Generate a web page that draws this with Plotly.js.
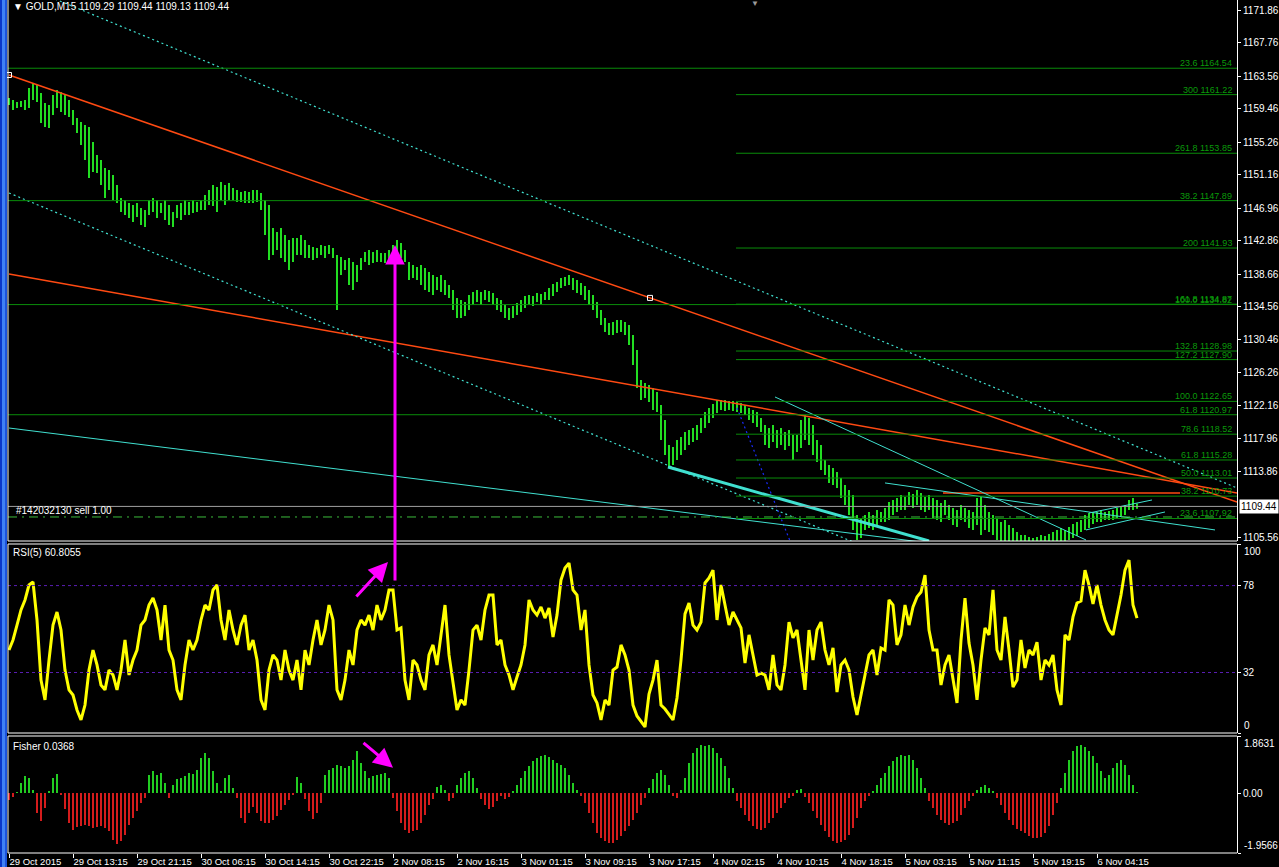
<!DOCTYPE html>
<html><head><meta charset="utf-8">
<script src="https://cdn.plot.ly/plotly-3.0.1.min.js"></script>
<style>html,body{margin:0;padding:0;background:#000;overflow:hidden}#chart{width:1279px;height:867px}</style>
</head><body><div id="chart"></div>
<script>
// ---------- DATA ----------
const xTickLabels = ['29 Oct 2015','29 Oct 13:15','29 Oct 21:15','30 Oct 06:15','30 Oct 14:15','30 Oct 22:15','2 Nov 08:15','2 Nov 16:15','3 Nov 01:15','3 Nov 09:15','3 Nov 17:15','4 Nov 02:15','4 Nov 10:15','4 Nov 18:15','5 Nov 03:15','5 Nov 11:15','5 Nov 19:15','6 Nov 04:15'];
const xTickBars = [0,32,64,96,128,160,192,224,256,288,320,352,384,416,448,480,512,544];
const priceTicks = [1171.86,1167.76,1163.56,1159.46,1155.26,1151.16,1146.96,1142.86,1138.66,1134.56,1130.46,1126.26,1122.16,1117.96,1113.86,1105.56];

// sampled every 2nd M15 bar
const priceHigh = [1160.80,1160.55,1160.29,1160.42,1160.55,1162.05,1162.68,1162.43,1161.43,1160.17,
1159.92,1161.17,1161.80,1161.55,1161.17,1160.55,1159.29,1158.28,1157.78,1157.40,
1157.15,1155.26,1153.63,1153.00,1152.00,1151.74,1151.12,1149.86,1148.22,1147.97,
1147.59,1147.34,1147.59,1146.97,1146.72,1147.97,1148.22,1147.97,1147.59,1147.97,
1147.34,1146.46,1147.34,1147.59,1147.97,1147.72,1147.97,1147.72,1147.97,1148.60,
1149.23,1149.86,1149.61,1150.24,1149.86,1150.11,1149.48,1149.23,1148.98,1149.10,
1148.98,1149.23,1149.23,1148.85,1147.97,1147.34,1144.45,1143.95,1144.45,1143.57,
1142.94,1143.19,1143.19,1143.57,1142.94,1142.31,1142.06,1141.94,1142.31,1142.19,
1142.31,1141.94,1141.06,1140.80,1140.43,1140.68,1140.18,1139.80,1140.68,1141.43,
1141.69,1141.43,1141.69,1141.31,1141.31,1141.69,1142.31,1142.94,1142.57,1141.69,
1140.18,1139.80,1139.55,1139.80,1139.42,1138.92,1138.54,1138.29,1138.54,1137.91,
1137.28,1136.66,1135.65,1135.40,1135.15,1136.03,1136.40,1136.66,1136.40,1136.66,
1136.53,1136.28,1135.65,1135.40,1134.77,1134.39,1134.64,1135.02,1135.40,1135.90,
1136.03,1135.90,1136.28,1136.15,1136.40,1136.91,1137.41,1137.66,1138.16,1138.29,
1138.54,1138.16,1137.91,1137.53,1137.16,1136.66,1136.03,1135.15,1134.14,1133.14,
1132.51,1132.63,1132.88,1132.88,1132.63,1132.25,1131.00,1129.11,1125.34,1124.96,
1124.71,1124.33,1123.83,1122.20,1120.31,1117.17,1116.91,1117.79,1118.17,1118.80,
1119.05,1119.30,1119.68,1120.56,1121.32,1121.82,1122.32,1122.82,1122.82,1122.82,
1122.70,1122.70,1122.57,1122.45,1122.20,1121.82,1121.57,1121.32,1120.56,1119.68,
1119.30,1119.68,1119.05,1119.30,1118.80,1119.05,1118.42,1118.42,1120.31,1120.94,
1120.56,1119.68,1117.79,1117.17,1115.28,1114.65,1114.27,1113.77,1113.02,1112.14,
1111.51,1110.88,1108.36,1107.99,1108.36,1108.74,1108.36,1108.99,1108.74,1109.24,
1110.00,1110.25,1110.50,1110.88,1110.63,1111.26,1111.00,1111.51,1111.13,1110.63,
1110.88,1110.50,1110.25,1109.87,1110.25,1109.62,1109.24,1108.99,1109.62,1109.24,
1108.99,1108.74,1110.50,1110.63,1109.62,1108.74,1108.36,1107.99,1107.48,1107.74,
1107.11,1106.73,1106.23,1105.85,1105.85,1105.60,1105.47,1105.60,1105.85,1105.72,
1105.97,1106.23,1106.48,1106.73,1106.48,1106.85,1107.23,1107.48,1107.74,1108.36,
1108.61,1108.74,1108.74,1108.99,1108.74,1108.87,1108.99,1109.24,1109.37,1109.62,
1110.25,1110.50,1109.80];
const priceLow = [1159.92,1159.29,1159.54,1159.67,1159.29,1159.54,1160.55,1160.29,1157.65,1157.15,
1157.02,1158.66,1159.54,1159.04,1158.66,1158.41,1157.40,1156.40,1154.89,1153.00,
1150.74,1151.49,1151.37,1149.86,1148.22,1149.23,1147.97,1147.59,1146.46,1146.09,
1145.71,1145.21,1145.83,1144.83,1144.58,1146.09,1146.46,1145.71,1146.34,1145.46,
1144.83,1144.58,1145.71,1145.46,1146.09,1146.09,1146.34,1146.46,1146.72,1146.72,
1147.34,1147.22,1146.46,1147.97,1147.34,1147.97,1147.97,1147.72,1147.72,1147.59,
1147.59,1147.59,1147.72,1146.72,1143.57,1140.43,1141.06,1141.69,1140.68,1140.18,
1139.17,1140.18,1141.06,1141.06,1140.68,1140.68,1140.43,1140.68,1141.06,1140.68,
1141.18,1140.68,1134.14,1138.54,1139.17,1137.28,1136.66,1137.66,1139.17,1140.18,
1139.80,1140.05,1140.18,1140.18,1140.05,1140.43,1140.68,1141.43,1140.68,1140.18,
1137.91,1138.16,1137.91,1137.28,1136.66,1136.40,1136.03,1136.66,1136.40,1136.03,
1135.65,1134.14,1133.14,1133.14,1133.39,1134.14,1134.77,1135.15,1134.77,1135.40,
1135.15,1134.77,1134.14,1133.89,1133.14,1132.88,1133.14,1133.51,1133.89,1134.39,
1134.77,1134.64,1135.15,1134.90,1135.40,1135.40,1135.90,1136.40,1136.91,1137.16,
1137.28,1136.66,1136.28,1136.03,1135.40,1134.77,1134.14,1133.14,1132.25,1131.37,
1131.00,1131.00,1131.25,1131.37,1131.00,1129.74,1127.22,1124.33,1122.82,1123.08,
1122.57,1121.57,1121.32,1117.79,1115.91,1114.27,1114.65,1115.28,1115.91,1116.54,
1117.17,1117.54,1117.79,1118.67,1119.30,1119.93,1120.56,1121.19,1121.57,1121.44,
1121.57,1121.44,1121.32,1121.19,1120.94,1120.31,1119.93,1119.43,1118.80,1117.17,
1116.79,1117.54,1116.79,1117.17,1116.54,1117.04,1115.28,1116.29,1116.79,1117.79,
1117.17,1115.91,1115.03,1114.02,1113.39,1112.39,1112.14,1111.76,1110.50,1109.62,
1108.36,1106.48,1105.22,1105.47,1106.48,1106.73,1106.48,1107.11,1107.48,1107.48,
1107.74,1108.36,1108.74,1108.99,1108.99,1109.62,1109.24,1109.62,1108.99,1108.74,
1108.99,1107.99,1107.74,1107.48,1108.36,1107.74,1107.11,1106.85,1107.74,1107.48,
1106.73,1106.48,1107.11,1105.85,1106.48,1106.23,1105.85,1105.22,1104.59,1104.97,
1104.21,1103.96,1103.71,1103.33,1103.71,1103.33,1103.33,1103.58,1103.71,1103.96,
1104.21,1104.59,1104.59,1104.84,1104.97,1105.22,1105.47,1105.72,1106.23,1106.48,
1106.73,1107.23,1107.48,1107.48,1107.74,1107.74,1107.74,1107.99,1108.11,1108.36,
1108.99,1108.99,1109.13];
const rsi5 = [43.9,49.2,57.1,65.1,70.4,78.3,79.9,59.8,28.0,17.5,
38.6,57.1,64.0,54.5,33.3,22.8,20.1,12.2,6.9,14.8,
33.3,43.9,36.0,25.4,22.8,33.3,30.7,22.8,33.3,49.2,
30.7,38.6,43.9,57.1,59.8,67.7,71.4,65.1,49.2,67.7,
43.9,38.6,22.8,17.5,36.0,49.2,43.9,49.2,59.8,67.7,
65.1,75.7,78.3,59.8,49.2,65.1,54.5,46.6,57.1,62.4,
43.9,49.2,38.6,17.5,12.2,33.3,41.3,38.6,28.0,43.9,
33.3,28.0,38.6,22.8,43.9,36.0,49.2,59.8,46.6,54.5,
67.7,59.8,22.8,17.5,28.0,43.9,36.0,54.5,59.8,57.1,
62.4,54.5,67.7,59.8,65.1,75.7,75.7,54.5,55.6,28.0,
17.5,38.6,36.0,28.0,22.8,41.3,46.6,36.0,51.9,67.7,
41.3,28.0,12.2,17.5,14.8,33.3,54.5,57.1,49.2,65.1,
73.0,73.0,46.6,49.2,36.0,30.7,22.8,29.6,36.0,46.6,
70.4,65.1,62.4,66.7,60.8,66.1,50.8,62.4,81.0,87.3,
89.9,75.7,73.0,54.5,65.1,36.0,20.1,15.9,6.9,17.5,
14.8,33.3,34.9,46.6,41.3,33.3,14.8,9.0,6.3,3.2,
20.6,28.0,38.6,14.8,12.7,9.5,6.9,18.5,38.6,63.0,
68.8,57.1,54.5,58.7,79.4,82.0,86.2,59.8,78.3,67.7,
57.1,64.0,59.8,55.6,37.0,51.9,41.3,30.7,31.7,30.7,
22.8,41.3,25.4,22.8,36.0,58.7,50.3,54.5,38.6,22.8,
54.5,38.6,54.5,58.7,43.9,36.0,45.0,21.7,36.0,38.6,
33.3,19.0,9.5,21.2,30.7,41.3,43.9,30.7,45.0,43.9,
70.4,67.7,46.6,51.9,67.7,57.1,66.7,72.0,74.6,83.6,
54.5,43.9,43.9,25.4,36.0,41.3,28.0,15.9,49.2,71.4,
47.6,36.0,17.5,38.6,55.6,51.9,75.7,43.9,38.6,61.4,
43.9,24.3,28.0,49.2,34.4,43.9,41.3,48.1,28.0,38.6,
36.0,41.3,22.8,14.8,51.9,49.2,61.4,68.8,69.8,86.2,
78.3,68.3,78.3,67.7,59.8,54.5,51.9,62.4,73.0,86.2,
91.5,67.7,60.8];
const fisher = [-0.23,-0.13,0.03,0.33,0.56,0.49,0.10,-0.65,-0.91,-0.49,
0.07,0.49,0.62,-0.07,-0.52,-0.98,-1.21,-1.11,-1.08,-1.04,
-1.08,-1.14,-1.11,-1.08,-1.14,-1.24,-1.53,-1.67,-1.57,-1.37,
-1.04,-0.82,-0.59,-0.33,-0.16,0.59,0.72,0.59,0.65,0.33,
-0.16,0.26,0.46,0.49,0.56,0.65,0.62,0.75,1.14,1.31,
1.14,0.72,0.33,0.07,0.49,0.59,0.16,-0.16,-0.82,-0.98,
-0.65,-0.46,-0.65,-0.91,-0.98,-0.98,-0.88,-0.75,-0.56,-0.39,
-0.23,-0.07,0.52,0.33,-0.20,-0.59,-0.85,-0.65,-0.33,0.59,
0.75,0.82,0.91,0.88,0.82,0.88,1.08,1.37,0.98,0.72,
0.49,0.56,0.59,0.62,0.65,0.49,-0.16,-0.59,-0.98,-1.21,
-1.31,-1.24,-1.21,-0.98,-0.72,-0.39,-0.20,0.20,0.26,0.10,
-0.26,-0.16,0.26,0.49,0.65,0.72,0.49,0.16,-0.20,-0.39,
-0.52,-0.46,-0.26,-0.10,-0.20,-0.13,0.07,0.26,0.49,0.72,
0.88,1.04,1.14,1.21,1.24,1.18,1.08,0.98,0.91,0.82,
0.59,0.33,0.10,-0.10,-0.33,-0.65,-0.98,-1.31,-1.47,-1.57,
-1.63,-1.63,-1.53,-1.40,-1.24,-1.08,-0.88,-0.65,-0.39,-0.16,
0.16,0.46,0.65,0.75,0.59,0.26,-0.10,-0.16,0.10,0.49,
0.98,1.31,1.47,1.57,1.53,1.57,1.47,1.31,1.14,0.88,
0.49,0.16,-0.26,-0.49,-0.72,-0.91,-1.08,-1.18,-1.21,-1.14,
-0.98,-0.82,-0.65,-0.49,-0.33,-0.16,-0.10,0.10,0.13,-0.13,
-0.33,-0.59,-0.82,-1.04,-1.24,-1.44,-1.57,-1.63,-1.60,-1.53,
-1.37,-1.14,-0.82,-0.49,-0.26,-0.10,0.07,0.26,0.49,0.65,
0.88,1.04,1.18,1.24,1.21,1.24,1.08,0.82,0.49,0.16,
-0.26,-0.49,-0.72,-0.88,-0.98,-1.04,-0.98,-0.91,-0.72,-0.49,
-0.26,-0.10,0.10,0.20,0.26,0.16,0.07,-0.16,-0.39,-0.65,
-0.88,-1.04,-1.18,-1.24,-1.31,-1.40,-1.47,-1.47,-1.44,-1.31,
-1.08,-0.72,-0.33,0.16,0.65,1.08,1.37,1.53,1.57,1.50,
1.37,1.21,0.98,0.72,0.49,0.59,0.82,0.98,1.08,0.91,
0.59,0.26,0.04];

const fibFullLevels = [1164.54,1147.89,1134.82,1120.97];
const fibFullLabels = ['23.6 1164.54','38.2 1147.89','100.0 1134.82','61.8 1120.97'];
const fibRightLevels = [1161.22,1153.85,1141.93,1134.87,1128.98,1127.90,1122.65,1118.52,1115.28,1113.01,1110.73,1107.92];
const fibRightLabels = ['300 1161.22','261.8 1153.85','200 1141.93','161.8 1134.87','132.8 1128.98','127.2 1127.90','100.0 1122.65','78.6 1118.52','61.8 1115.28','50.0 1113.01','38.2 1110.73','23.6 1107.92'];
const fibRightStartBar = 363.5;

const trendBars = [[0,614],[0,614],[467,585.5],[0,614],[0,450],[364,395.5],[329.5,460],[0,460],[438,603],[383,538.5],[538.5,578],[540,571.5]];
const trendPrices = [[1163.69,1110.00],[1138.67,1111.13],[1111.13,1111.13],[1175.64,1111.76],[1148.85,1102.07],[1121.82,1101.95],[1114.40,1105.09],[1119.30,1104.84],[1112.39,1106.48],[1123.20,1105.22],[1106.48,1108.74],[1108.61,1110.25]];
const anchorBars = [0,320.5];
const anchorPrices = [1163.69,1135.66];

const bidPrice = 1109.44;
const orderPrice = 1108.11;
const rsiLevels = [78,32];
const header = '▼ GOLD,M15 1109.29 1109.44 1109.13 1109.44';
const rsiLabel = 'RSI(5) 60.8055';
const fisherLabel = 'Fisher 0.0368';
const orderLabel = '#142032130 sell 1.00';

// ---------- BUILD ----------
const barStep = 2;
const sampleBars = priceHigh.map((_, i) => i * barStep);
const segX = [], segY = [];
priceHigh.forEach((h, i) => { segX.push(sampleBars[i], sampleBars[i], null); segY.push(priceLow[i], h, null); });

const FONT = 'Liberation Sans, Arial, sans-serif';
const traces = [];
traces.push({type:'scatter', mode:'lines', x:segX, y:segY, xaxis:'x', yaxis:'y', line:{color:'#22dd22', width:2}, hoverinfo:'skip'});

const trendStyle = [
  {c:'#ff4a12', w:1.5, d:'solid'},
  {c:'#ff4a12', w:1.5, d:'solid'},
  {c:'#ff4a12', w:1.5, d:'solid'},
  {c:'#40e0d0', w:1.2, d:'2px,3px'},
  {c:'#40e0d0', w:1.2, d:'2px,3px'},
  {c:'#1a2cff', w:1.2, d:'2px,3px'},
  {c:'#40e0d0', w:3, d:'solid'},
  {c:'#40e0d0', w:1, d:'solid'},
  {c:'#40e0d0', w:1, d:'solid'},
  {c:'#40e0d0', w:1, d:'solid'},
  {c:'#40e0d0', w:1, d:'solid'},
  {c:'#40e0d0', w:1, d:'solid'}
];
trendBars.forEach((b, i) => {
  const s = trendStyle[i];
  traces.push({type:'scatter', mode:'lines', x:b, y:trendPrices[i], xaxis:'x', yaxis:'y', line:{color:s.c, width:s.w, dash:s.d}, hoverinfo:'skip'});
});
traces.push({type:'scatter', mode:'markers', x:anchorBars, y:anchorPrices, xaxis:'x', yaxis:'y', marker:{symbol:'square-open', size:5, color:'#ffffff', line:{width:1, color:'#ffffff'}}, hoverinfo:'skip', cliponaxis:false});

traces.push({type:'scatter', mode:'lines', x:sampleBars, y:rsi5, xaxis:'x', yaxis:'y2', line:{color:'#ffff00', width:3}, hoverinfo:'skip'});
traces.push({type:'bar', x:sampleBars, y:fisher, width:1, xaxis:'x', yaxis:'y3', marker:{color:fisher.map(v => v >= 0 ? '#22cc22' : '#d41c1c'), line:{width:0}}, hoverinfo:'skip'});

const shapes = [];
const W = 1229; // plot width px
// left window frame strip
shapes.push({type:'rect', xref:'paper', yref:'paper', x0:-8/W, x1:-6/W, y0:-0.02, y1:1.01, fillcolor:'#0a36c8', line:{width:0}});
shapes.push({type:'rect', xref:'paper', yref:'paper', x0:-6/W, x1:-3/W, y0:-0.02, y1:1.01, fillcolor:'#3f80f4', line:{width:0}});
shapes.push({type:'rect', xref:'paper', yref:'paper', x0:-3/W, x1:-1/W, y0:-0.02, y1:1.01, fillcolor:'#1b52dc', line:{width:0}});

fibFullLevels.forEach(v => shapes.push({type:'line', xref:'paper', yref:'y', x0:0, x1:1, y0:v, y1:v, line:{color:'#0a8c0a', width:1}}));
fibRightLevels.forEach(v => shapes.push({type:'line', xref:'x', yref:'y', x0:fibRightStartBar, x1:614, y0:v, y1:v, line:{color:'#0a8c0a', width:1}}));
shapes.push({type:'line', xref:'paper', yref:'y', x0:0, x1:1, y0:bidPrice, y1:bidPrice, line:{color:'#a0a0a0', width:1}});
shapes.push({type:'line', xref:'paper', yref:'y', x0:0, x1:1, y0:orderPrice, y1:orderPrice, line:{color:'#3cbc3c', width:1, dash:'9px,5px,2px,5px'}});
rsiLevels.forEach(v => shapes.push({type:'line', xref:'paper', yref:'y2', x0:0, x1:1, y0:v, y1:v, line:{color:'#5a1eb4', width:1, dash:'3px,3px'}}));

// panel borders
const wline = {color:'#ffffff', width:1};
['y','y2','y3'].forEach(ax => {
  shapes.push({type:'line', xref:'paper', yref:ax+' domain', x0:0, x1:0, y0:0, y1:1, line:wline});
  shapes.push({type:'line', xref:'paper', yref:ax+' domain', x0:0, x1:1, y0:0, y1:0, line:wline});
});
shapes.push({type:'line', xref:'paper', yref:'y2 domain', x0:0, x1:1, y0:1, y1:1, line:wline});
shapes.push({type:'line', xref:'paper', yref:'y3 domain', x0:0, x1:1, y0:1, y1:1, line:wline});

const ann = [];
const gfont = {family:FONT, size:9, color:'#0a9a0a'};
fibFullLevels.forEach((v, i) => ann.push({xref:'paper', yref:'y', x:1, y:v, xanchor:'right', yanchor:'bottom', xshift:-3, yshift:-2, text:fibFullLabels[i], showarrow:false, font:gfont}));
fibRightLevels.forEach((v, i) => ann.push({xref:'paper', yref:'y', x:1, y:v, xanchor:'right', yanchor:'bottom', xshift:-3, yshift:-2, text:fibRightLabels[i], showarrow:false, font:gfont}));

const wfont = {family:FONT, size:10, color:'#ffffff'};
ann.push({xref:'paper', yref:'paper', x:0, y:1, xanchor:'left', yanchor:'top', xshift:3, yshift:1, text:header, showarrow:false, font:wfont});
ann.push({xref:'paper', yref:'y2 domain', x:0, y:1, xanchor:'left', yanchor:'top', xshift:3, yshift:-1, text:rsiLabel, showarrow:false, font:wfont});
ann.push({xref:'paper', yref:'y3 domain', x:0, y:1, xanchor:'left', yanchor:'top', xshift:3, yshift:-3, text:fisherLabel, showarrow:false, font:wfont});
ann.push({xref:'paper', yref:'y', x:0, y:orderPrice, xanchor:'left', yanchor:'bottom', xshift:6, yshift:-1, text:orderLabel, showarrow:false, font:wfont});
ann.push({xref:'paper', yref:'y', x:1, y:bidPrice, xanchor:'left', yanchor:'middle', xshift:2, text:bidPrice.toFixed(2), showarrow:false, bgcolor:'#ffffff', borderpad:1, font:{family:FONT, size:10, color:'#000000'}});
ann.push({xref:'paper', yref:'paper', x:(755-8)/W, y:1, xanchor:'center', yanchor:'top', yshift:3, text:'▼', showarrow:false, font:{family:FONT, size:8, color:'#9a9a9a'}});
// edge axis labels
ann.push({xref:'paper', yref:'y2', x:1, y:100, xanchor:'left', yanchor:'top', xshift:5, text:'100', showarrow:false, font:wfont});
ann.push({xref:'paper', yref:'y2', x:1, y:0, xanchor:'left', yanchor:'bottom', xshift:5, text:'0', showarrow:false, font:wfont});
ann.push({xref:'paper', yref:'y3', x:1, y:1.8631, xanchor:'left', yanchor:'top', xshift:5, text:'1.8631', showarrow:false, font:wfont});
ann.push({xref:'paper', yref:'y3', x:1, y:-1.9566, xanchor:'left', yanchor:'bottom', xshift:5, text:'-1.9566', showarrow:false, font:wfont});
// magenta arrows
ann.push({xref:'x', yref:'y', x:193, y:1142.31, ax:0, ay:337, text:'', showarrow:true, arrowhead:2, arrowsize:1.3, arrowwidth:3, arrowcolor:'#ff00ff', standoff:0});
ann.push({xref:'x', yref:'y2', x:189.5, y:90.5, ax:-33, ay:36, text:'', showarrow:true, arrowhead:2, arrowsize:1.3, arrowwidth:3, arrowcolor:'#ff00ff', standoff:0});
ann.push({xref:'x', yref:'y3', x:192, y:0.83, ax:-31, ay:-26, text:'', showarrow:true, arrowhead:2, arrowsize:1.3, arrowwidth:3, arrowcolor:'#ff00ff', standoff:0});

const H = 853;
const yCommon = {side:'right', anchor:'x', showgrid:false, zeroline:false, showline:true, linecolor:'#ffffff', linewidth:1, ticks:'outside', ticklen:3, tickcolor:'#ffffff', tickfont:{family:FONT, size:10, color:'#ffffff'}, fixedrange:true};
const layout = {
  width:1279, height:867,
  margin:{l:8, r:42, t:0, b:14},
  paper_bgcolor:'#000000', plot_bgcolor:'#000000',
  showlegend:false, hovermode:false, bargap:0,
  font:{family:FONT, color:'#ffffff'},
  xaxis:{domain:[0,1], range:[-0.5,614], anchor:'y3', showgrid:false, zeroline:false, showline:false,
    tickvals:xTickBars, ticktext:xTickLabels, ticks:'outside', ticklen:4, tickcolor:'#ffffff',
    ticklabelposition:'outside right', tickfont:{family:FONT, size:9.5, color:'#ffffff'}, fixedrange:true},
  yaxis:Object.assign({}, yCommon, {domain:[(H-541)/H,1], range:[1105.09,1173.12], tickvals:priceTicks, ticktext:priceTicks.map(v => v.toFixed(2))}),
  yaxis2:Object.assign({}, yCommon, {domain:[(H-733)/H,(H-544)/H], range:[0,100], tickvals:[0,32,78,100], ticktext:['','32','78','']}),
  yaxis3:Object.assign({}, yCommon, {domain:[0,(H-736)/H], range:[-1.9566,1.8631], tickvals:[-1.9566,0,1.8631], ticktext:['','0.00','']}),
  shapes:shapes, annotations:ann
};
Plotly.newPlot('chart', traces, layout, {staticPlot:true, displayModeBar:false});
</script>
</body></html>
